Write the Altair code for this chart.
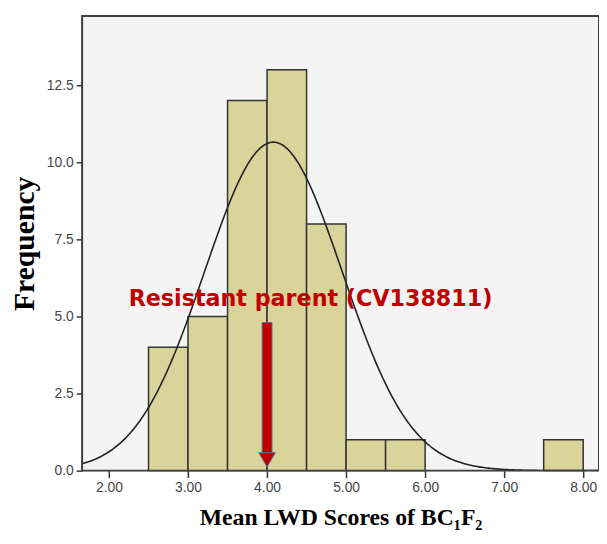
import altair as alt
import pandas as pd

# Histogram bins (Mean LWD score) and frequencies
bin_start = [2.5, 3.0, 3.5, 4.0, 4.5, 5.0, 5.5, 7.5]
bin_end = [3.0, 3.5, 4.0, 4.5, 5.0, 5.5, 6.0, 8.0]
counts = [4, 5, 12, 13, 8, 1, 1, 1]

# Fitted normal curve parameters
curve_mean = 4.08
curve_sd = 0.87
curve_peak = 10.65

# Annotation
parent_score = [4.0]
arrow_top = [4.8]
label_text = ["Resistant parent (CV138811)"]
label_x = [4.55]
label_y = [5.55]

x_ticks = [2, 3, 4, 5, 6, 7, 8]
y_ticks = [0, 2.5, 5, 7.5, 10, 12.5]

XDOM = [1.66, 8.2]
YDOM = [0, 14.74]

bars_df = pd.DataFrame({"start": bin_start, "end": bin_end, "count": counts})

xscale = alt.Scale(domain=XDOM, nice=False, zero=False, padding=0)
yscale = alt.Scale(domain=YDOM, nice=False, padding=0)

xaxis = alt.Axis(
    values=x_ticks, format=".2f", title="Mean LWD Scores of BC₁F₂",
    titleFont="Liberation Serif", titleFontSize=24, titleFontWeight="bold",
    titleColor="black", titlePadding=12, labelFont="Liberation Sans",
    labelFontSize=14, labelColor="#444", labelPadding=3, tickSize=7,
    tickColor="#333", tickWidth=1.5, domain=False, grid=False,
)
yaxis = alt.Axis(
    values=y_ticks, format=".1f", title="Frequency",
    titleFont="Liberation Serif", titleFontSize=30, titleFontWeight="bold",
    titleColor="black", titlePadding=7, labelFont="Liberation Sans",
    labelFontSize=14, labelColor="#444", labelPadding=3, tickSize=6,
    tickColor="#333", tickWidth=1.5, domain=False, grid=False,
)

one_row = pd.DataFrame({"a": [0]})

background = alt.Chart(one_row).mark_rect(
    fill="#f4f4f4", stroke=None
).encode(
    x=alt.datum(XDOM[0], scale=xscale, axis=xaxis),
    x2=alt.datum(XDOM[1]),
    y=alt.datum(YDOM[0], scale=yscale, axis=yaxis),
    y2=alt.datum(YDOM[1]),
)

bars = alt.Chart(bars_df).mark_bar(
    fill="#d9d49a", stroke="#333333", strokeWidth=1.5, opacity=1
).encode(
    x=alt.X("start:Q", scale=xscale, axis=xaxis),
    x2="end:Q",
    y=alt.Y("count:Q", scale=yscale, axis=yaxis),
    y2=alt.datum(0),
)

curve = alt.Chart(alt.sequence(XDOM[0], XDOM[1] + 0.001, 0.02, as_="x")).transform_calculate(
    y=f"{curve_peak}*exp(-pow(datum.x-{curve_mean},2)/(2*{curve_sd}*{curve_sd}))"
).mark_line(color="#222222", strokeWidth=1.6, clip=True).encode(
    x=alt.X("x:Q", scale=xscale),
    y=alt.Y("y:Q", scale=yscale),
)

arrow_df = pd.DataFrame({"x": parent_score, "top": arrow_top, "bot": [0.55], "head": [0.35]})

shaft = alt.Chart(arrow_df).mark_bar(
    color="#c00000", stroke="#5b6e9e", strokeWidth=1, width=10
).encode(
    x=alt.X("x:Q", scale=xscale),
    y=alt.Y("top:Q", scale=yscale),
    y2="bot:Q",
)

head = alt.Chart(arrow_df).mark_point(
    shape="triangle-down", filled=True, color="#c00000", stroke="#5b6e9e",
    strokeWidth=1, size=280, opacity=1
).encode(
    x=alt.X("x:Q", scale=xscale),
    y=alt.Y("head:Q", scale=yscale),
)

label_df = pd.DataFrame({"x": label_x, "y": label_y, "t": label_text})
label = alt.Chart(label_df).mark_text(
    font="DejaVu Sans", fontSize=22.5, fontWeight="bold", color="#c00000",
    align="center", baseline="middle"
).encode(
    x=alt.X("x:Q", scale=xscale),
    y=alt.Y("y:Q", scale=yscale),
    text="t:N",
)

frame = alt.Chart(one_row).mark_rect(
    fill=None, filled=False, stroke="#3f3f3f", strokeWidth=2
).encode(
    x=alt.datum(XDOM[0], scale=xscale),
    x2=alt.datum(XDOM[1]),
    y=alt.datum(YDOM[0], scale=yscale),
    y2=alt.datum(YDOM[1]),
)

chart = alt.layer(background, bars, curve, shaft, head, label, frame).properties(
    width=523, height=460,
    autosize=alt.AutoSizeParams(type="none"),
    padding={"left": 75, "top": 5, "right": 0, "bottom": 60},
).configure_view(
    fill="#f4f4f4", stroke="#3a3a3a", strokeWidth=2
).configure(background="white")

chart.save("out.html", embed_options={"renderer": "svg", "actions": False})
